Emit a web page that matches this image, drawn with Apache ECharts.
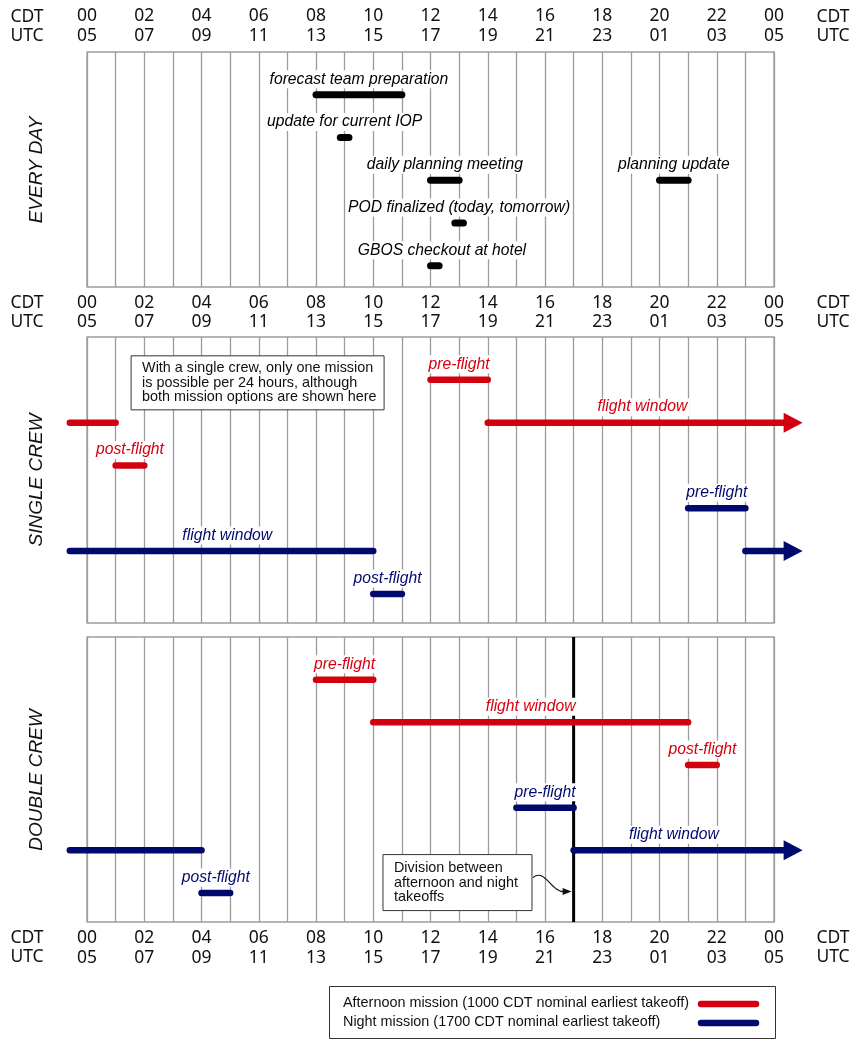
<!DOCTYPE html>
<html><head><meta charset="utf-8">
<script src="https://cdn.jsdelivr.net/npm/echarts@6/dist/echarts.min.js"></script>
<style>html,body{margin:0;padding:0;background:#fff}#c{width:854px;height:1040px}</style>
</head><body><div id="c"></div>
<script>
// ---- tick labels ----
const cdtTicks = ['00','02','04','06','08','10','12','14','16','18','20','22','00'];
const utcTicks = ['05','07','09','11','13','15','17','19','21','23','01','03','05'];
const sideLabels = ['CDT', 'UTC'];
const panelTitles = ['EVERY DAY', 'SINGLE CREW', 'DOUBLE CREW'];

// ---- EVERY DAY ----
const dayTasks   = ['forecast team preparation','update for current IOP','daily planning meeting','POD finalized (today, tomorrow)','GBOS checkout at hotel','planning update'];
const dayStart   = [8, 8.85, 12, 12.85, 12, 20];
const dayEnd     = [11, 9.15, 13, 13.15, 12.3, 21];
const dayRow     = [0, 1, 2, 3, 4, 2];
const dayLabelAt = [9.5, 9, 12.5, 13, 12.4, 20.5];

// ---- SINGLE CREW ----
const singleTasks   = ['', 'post-flight', 'pre-flight', 'flight window', 'flight window', 'post-flight', 'pre-flight', ''];
const singleMission = ['afternoon','afternoon','afternoon','afternoon','night','night','night','night'];
const singleStart   = [-0.6, 1, 12, 14, -0.6, 10, 21, 23];
const singleEnd     = [1, 2, 14, 25, 10, 11, 23, 25];
const singleRow     = [1, 2, 0, 1, 4, 5, 3, 4];
const singleArrow   = [0, 0, 0, 1, 0, 0, 0, 1];
const singleLabelAt = [0, 1.5, 13, 19.4, 4.9, 10.5, 22, 0];
const singleNote    = 'With a single crew, only one mission\nis possible per 24 hours, although\nboth mission options are shown here';
const singleNoteAt  = [1.54, -0.56];

// ---- DOUBLE CREW ----
const doubleTasks   = ['pre-flight', 'flight window', 'post-flight', 'pre-flight', 'flight window', '', 'post-flight'];
const doubleMission = ['afternoon','afternoon','afternoon','night','night','night','night'];
const doubleStart   = [8, 10, 21, 15, 17, -0.6, 4];
const doubleEnd     = [10, 21, 22, 17, 25, 4, 5];
const doubleRow     = [0, 1, 2, 3, 4, 4, 5];
const doubleArrow   = [0, 0, 0, 0, 1, 0, 0];
const doubleLabelAt = [9, 15.5, 21.5, 16, 20.5, 0, 4.5];
const divisionHour  = [17];
const doubleNote    = 'Division between\nafternoon and night\ntakeoffs';
const doubleNoteAt  = [10.34, 4.1];

// ---- legend ----
const legendLabels = ['Afternoon mission (1000 CDT nominal earliest takeoff)', 'Night mission (1700 CDT nominal earliest takeoff)'];

const RED = '#d3000f', BLUE = '#000a6e', GRID = '#9c9c9c';
const missionColor = m => m === 'afternoon' ? RED : BLUE;
const LABEL_FONT = 'italic 15.7px "Liberation Sans", Arial, sans-serif';
const TICK_FONT = '"Noto Sans", sans-serif';

const grids = [
  {left: 87, right: 80, top: 52, height: 235},
  {left: 87, right: 80, top: 337, height: 286},
  {left: 87, right: 80, top: 637, height: 285}
].map(g => Object.assign(g, {show: true, borderColor: GRID, borderWidth: 1.3, backgroundColor: 'transparent'}));

function xAx(gridIndex, position, margin) {
  return {
    type: 'value', gridIndex, position, min: 0, max: 24, interval: 1,
    axisLine: {show: false}, axisTick: {show: false},
    splitLine: {show: true, lineStyle: {color: GRID, width: 1.3}},
    axisLabel: {
      show: true, margin, showMinLabel: true, showMaxLabel: true,
      fontFamily: TICK_FONT, fontSize: 17.5, color: '#111', lineHeight: 19.5,
      formatter: v => (v % 2 === 0) ? cdtTicks[v / 2] + '\n' + utcTicks[v / 2] : ''
    }
  };
}
function yAx(gridIndex, max) {
  return {type: 'value', gridIndex, inverse: true, min: -1, max, show: false};
}

function segSeries(gridIndex, tasks, start, end, row, labelAt, arrow, colors, lw) {
  return {
    type: 'custom', xAxisIndex: gridIndex, yAxisIndex: gridIndex, z: 5, clip: false,
    data: start.map((s, i) => [s, end[i], row[i]]),
    renderItem(params, api) {
      const i = params.dataIndex;
      const a = api.coord([api.value(0), api.value(2)]);
      const b = api.coord([api.value(1), api.value(2)]);
      const col = colors[i];
      const children = [];
      const xe = arrow[i] ? b[0] - 15 : b[0];
      children.push({type: 'line', shape: {x1: a[0], y1: a[1], x2: xe, y2: b[1]},
        style: {stroke: col, lineWidth: lw, lineCap: arrow[i] ? 'butt' : 'round'}});
      if (arrow[i]) {
        children.push({type: 'line', shape: {x1: a[0], y1: a[1], x2: a[0] + 1, y2: a[1]},
          style: {stroke: col, lineWidth: lw, lineCap: 'round'}});
        children.push({type: 'polygon', shape: {points: [[b[0] - 19, b[1] - 10], [b[0], b[1]], [b[0] - 19, b[1] + 10]]},
          style: {fill: col}});
      }
      if (tasks[i]) {
        const c = api.coord([labelAt[i], api.value(2)]);
        children.push({type: 'text', z2: 10, style: {text: tasks[i], x: c[0], y: c[1] - 15.5,
          align: 'center', verticalAlign: 'middle', font: LABEL_FONT, fill: col,
          backgroundColor: '#fff', padding: [1, 2]}});
      }
      return {type: 'group', children};
    }
  };
}

function noteSeries(gridIndex, text, at, w, h, withArrow) {
  return {
    type: 'custom', xAxisIndex: gridIndex, yAxisIndex: gridIndex, z: 8, clip: false,
    data: [at],
    renderItem(params, api) {
      const p = api.coord([api.value(0), api.value(1)]);
      const children = [
        {type: 'rect', shape: {x: p[0], y: p[1], width: w, height: h},
          style: {fill: '#fff', stroke: '#333', lineWidth: 1}},
        {type: 'text', style: {text, x: p[0] + 11, y: p[1] + h / 2, verticalAlign: 'middle', align: 'left',
          font: '14.4px "Liberation Sans", Arial, sans-serif', lineHeight: 14.4, fill: '#111'}}
      ];
      if (withArrow) {
        const lx = api.coord([divisionHour[0], 0])[0];
        const sx = p[0] + w + 1, sy = p[1] + 23;
        const tip = lx - 2, ty = sy + 14;
        children.push({type: 'bezierCurve', shape: {x1: sx, y1: sy, cpx1: sx + 12, cpy1: sy - 10,
          cpx2: sx + 18, cpy2: ty + 1, x2: tip - 7, y2: ty},
          style: {stroke: '#111', lineWidth: 1.2, fill: null}});
        children.push({type: 'polygon', shape: {points: [[tip, ty], [tip - 9, ty - 3.5], [tip - 9, ty + 3.5]]},
          style: {fill: '#111'}});
      }
      return {type: 'group', children};
    }
  };
}

const divisionSeries = {
  type: 'custom', xAxisIndex: 2, yAxisIndex: 2, z: 3, clip: false,
  data: divisionHour.map(h => [h]),
  renderItem(params, api) {
    const t = api.coord([api.value(0), -1]);
    const b = api.coord([api.value(0), 5.68]);
    return {type: 'line', shape: {x1: t[0], y1: t[1], x2: b[0], y2: b[1]},
      style: {stroke: '#000', lineWidth: 3}};
  }
};

// graphic: side labels, panel titles, legend
const graphic = [];
const sideRows = [[17, 36], [303, 322.5], [938, 957.5]];
sideRows.forEach(rows => {
  rows.forEach((y, k) => {
    [27, 833].forEach(x => graphic.push({type: 'text', x, y, style: {text: sideLabels[k], align: 'center',
      verticalAlign: 'middle', font: '17.5px "Noto Sans", sans-serif', fill: '#111'}}));
  });
});
const titleY = [170, 480, 780];
panelTitles.forEach((t, i) => graphic.push({type: 'text', x: 37, y: titleY[i], rotation: Math.PI / 2,
  style: {text: t, align: 'center', verticalAlign: 'middle', font: 'italic 19px "Liberation Sans", Arial, sans-serif', fill: '#111'}}));
graphic.push({type: 'rect', shape: {x: 329.5, y: 986.5, width: 446, height: 52}, style: {fill: '#fff', stroke: '#333', lineWidth: 1}});
legendLabels.forEach((t, i) => {
  const y = 1003 + i * 19;
  graphic.push({type: 'text', x: 343, y, style: {text: t, verticalAlign: 'middle', font: '14.4px "Liberation Sans", Arial, sans-serif', fill: '#111'}});
  graphic.push({type: 'line', shape: {x1: 701, y1: y + 1, x2: 756, y2: y + 1}, style: {stroke: i === 0 ? RED : BLUE, lineWidth: 6.5, lineCap: 'round'}});
});

const chart = echarts.init(document.getElementById('c'), null, {renderer: 'canvas'});
chart.setOption({
  animation: false,
  backgroundColor: '#fff',
  grid: grids,
  xAxis: [xAx(0, 'top', 6.5), xAx(1, 'top', 5), xAx(2, 'bottom', 6.5)],
  yAxis: [yAx(0, 4.5), yAx(1, 5.68), yAx(2, 5.68)],
  graphic,
  series: [
    segSeries(0, dayTasks, dayStart, dayEnd, dayRow, dayLabelAt, dayTasks.map(() => 0), dayTasks.map(() => '#000'), 7),
    segSeries(1, singleTasks, singleStart, singleEnd, singleRow, singleLabelAt, singleArrow, singleMission.map(missionColor), 6.5),
    noteSeries(1, singleNote, singleNoteAt, 253, 54, false),
    divisionSeries,
    segSeries(2, doubleTasks, doubleStart, doubleEnd, doubleRow, doubleLabelAt, doubleArrow, doubleMission.map(missionColor), 6.5),
    noteSeries(2, doubleNote, doubleNoteAt, 149, 56, true)
  ]
});
</script></body></html>
